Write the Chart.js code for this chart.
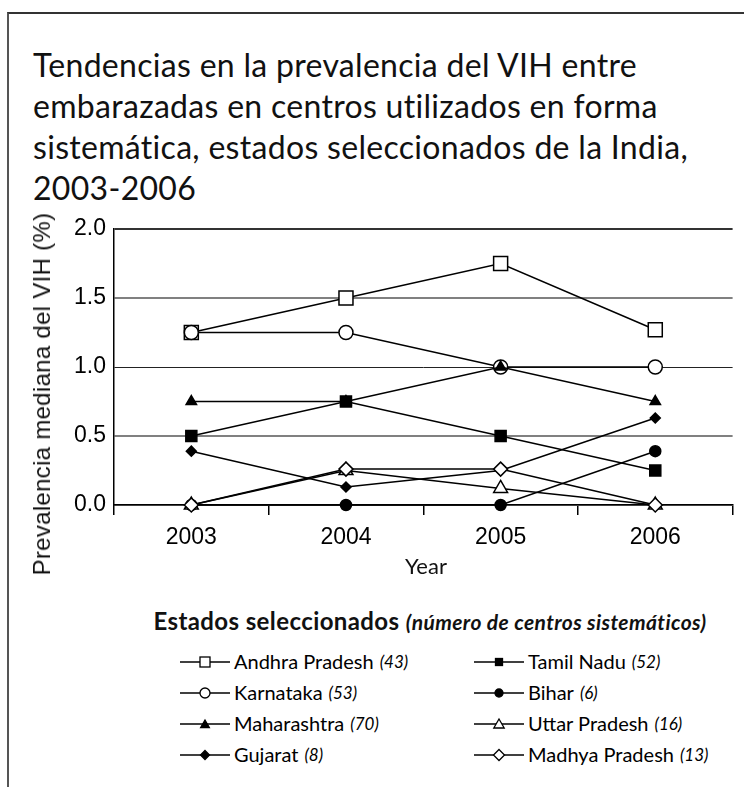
<!DOCTYPE html>
<html>
<head>
<meta charset="utf-8">
<script src="https://cdn.jsdelivr.net/npm/chart.js@4"></script>
<style>
  body { margin: 0; background: #fff; }
  #page { position: relative; width: 744px; height: 787px; overflow: hidden; background: #fff; font-family: Lato, sans-serif; color: #111; }
  #frame { position: absolute; left: 7px; top: 12px; width: 800px; height: 800px; border-left: 2px solid #555; border-top: 2px solid #333; }
  #title { position: absolute; left: 33px; top: 44px; font-size: 32px; line-height: 41px; letter-spacing: 0.3px; }
  #chartBox { position: absolute; left: 0; top: 200px; width: 744px; height: 380px; }
  #yTitle { position: absolute; left: 42px; top: 394px; transform: translate(-50%, -50%) rotate(-90deg); white-space: nowrap; font-family: "Liberation Sans", Arial, sans-serif; font-size: 24px; letter-spacing: 0.3px; }
  #xTitle { position: absolute; left: 426px; top: 565px; transform: translate(-50%, -50%); font-size: 22px; }
  #legendHead { position: absolute; left: 430px; top: 620px; transform: translate(-50%, -50%); white-space: nowrap; font-size: 24px; font-weight: bold; letter-spacing: 0.4px; }
  #legendHead i { font-size: 21px; }
  .lgItem { position: absolute; height: 31px; line-height: 31px; white-space: nowrap; font-size: 20px; display: flex; align-items: center; color: #000; }
  .lgItem svg { margin-right: 4px; }
  .lgItem i { font-size: 17px; margin-left: 6px; }
</style>
</head>
<body>
<div id="page">
  <div id="frame"></div>
  <div id="title">Tendencias en la prevalencia del VIH entre<br>embarazadas en centros utilizados en forma<br>sistemática, estados seleccionados de la India,<br>2003-2006</div>
  <div id="chartBox"><canvas id="chart"></canvas></div>
  <div id="yTitle">Prevalencia mediana del VIH (%)</div>
  <div id="xTitle">Year</div>
  <div id="legendHead">Estados seleccionados <i>(número de centros sistemáticos)</i></div>
  <div id="legend"></div>
</div>
<script>
// datos
const years = ['2003', '2004', '2005', '2006'];
const yTickLabels = ['0.0', '0.5', '1.0', '1.5', '2.0'];

const states = ['Andhra Pradesh', 'Karnataka', 'Maharashtra', 'Gujarat', 'Tamil Nadu', 'Bihar', 'Uttar Pradesh', 'Madhya Pradesh'];
const siteCounts = [43, 53, 70, 8, 52, 6, 16, 13];

const andhraPradesh = [1.25, 1.5, 1.75, 1.27];
const karnataka = [1.25, 1.25, 1.0, 1.0];
const maharashtra = [0.75, 0.75, 1.0, 0.75];
const gujarat = [0.39, 0.13, 0.25, 0.63];
const tamilNadu = [0.5, 0.75, 0.5, 0.25];
const bihar = [0.0, 0.0, 0.0, 0.39];
const uttarPradesh = [0.0, 0.25, 0.12, 0.0];
const madhyaPradesh = [0.0, 0.26, 0.26, 0.0];

const seriesValues = [andhraPradesh, karnataka, maharashtra, gujarat, tamilNadu, bihar, uttarPradesh, madhyaPradesh];

// estilo de los marcadores (forma, relleno, radio)
const markers = [
  { style: 'rect', filled: false, r: 9.9 },
  { style: 'circle', filled: false, r: 7 },
  { style: 'triangle', filled: true, r: 6 },
  { style: 'rectRot', filled: true, r: 5 },
  { style: 'rect', filled: true, r: 7.8 },
  { style: 'circle', filled: true, r: 5.5 },
  { style: 'triangle', filled: false, r: 8 },
  { style: 'rectRot', filled: false, r: 7 }
];

const datasets = states.map((name, i) => ({
  label: name,
  data: seriesValues[i],
  borderColor: '#000',
  borderWidth: 1.5,
  pointStyle: markers[i].style,
  pointRadius: markers[i].r,
  pointHoverRadius: markers[i].r,
  pointBackgroundColor: markers[i].filled ? '#000' : '#fff',
  pointBorderColor: '#000',
  pointBorderWidth: 1.5,
  order: states.length - i,
  tension: 0,
  clip: false
}));

new Chart(document.getElementById('chart'), {
  type: 'line',
  data: { labels: years, datasets: datasets },
  options: {
    responsive: true,
    maintainAspectRatio: false,
    animation: false,
    layout: { padding: { left: 0, right: 8, top: 29, bottom: 0 } },
    plugins: { legend: { display: false }, tooltip: { enabled: false } },
    scales: {
      x: {
        offset: true,
        afterFit: (scale) => { scale.height = 75; },
        grid: { offset: true, drawOnChartArea: false, drawTicks: true, tickLength: 10, color: '#000', lineWidth: 1.5 },
        border: { color: '#000', width: 1.5 },
        ticks: { color: '#000', padding: 9, font: { family: '"Liberation Sans", Arial, sans-serif', size: 23 } }
      },
      y: {
        min: 0,
        max: 2,
        afterFit: (scale) => { scale.width = 114; },
        ticks: {
          stepSize: 0.5,
          color: '#000',
          padding: 8,
          font: { family: '"Liberation Sans", Arial, sans-serif', size: 23 },
          callback: (v, i) => yTickLabels[i]
        },
        grid: {
          drawTicks: false,
          color: (ctx) => ctx.tick.value === 2 ? '#333' : (ctx.tick.value === 1 ? '#222' : '#808080'),
          lineWidth: (ctx) => ctx.tick.value === 1 ? 1 : 2
        },
        border: { color: '#000', width: 1.5 }
      }
    }
  }
});

// leyenda en HTML
const legendEl = document.getElementById('legend');
const colX = [180, 474];
const rowTop = 646;
const rowH = 31;

function markerSvg(m) {
  const fill = m.filled ? '#000' : '#fff';
  const cx = 25, cy = 10;
  let shape = '';
  if (m.style === 'rect') {
    const s = m.filled ? 3.5 : 5;
    shape = `<rect x="${cx - s}" y="${cy - s}" width="${2 * s}" height="${2 * s}" fill="${fill}" stroke="#000" stroke-width="1.3"/>`;
  } else if (m.style === 'circle') {
    const r = m.filled ? 4 : 5;
    shape = `<circle cx="${cx}" cy="${cy}" r="${r}" fill="${fill}" stroke="#000" stroke-width="1.3"/>`;
  } else if (m.style === 'triangle') {
    const r = m.filled ? 5 : 6;
    const h = r * 0.866;
    shape = `<polygon points="${cx},${cy - r + 1} ${cx + h},${cy + r / 2 + 1} ${cx - h},${cy + r / 2 + 1}" fill="${fill}" stroke="#000" stroke-width="1.3"/>`;
  } else {
    const r = m.filled ? 4.5 : 5.5;
    shape = `<polygon points="${cx},${cy - r} ${cx + r},${cy} ${cx},${cy + r} ${cx - r},${cy}" fill="${fill}" stroke="#000" stroke-width="1.3"/>`;
  }
  return `<svg width="50" height="20" viewBox="0 0 50 20"><line x1="0" y1="${cy}" x2="50" y2="${cy}" stroke="#000" stroke-width="1.6"/>${shape}</svg>`;
}

states.forEach((name, i) => {
  const col = i < 4 ? 0 : 1;
  const row = i % 4;
  const item = document.createElement('div');
  item.className = 'lgItem';
  item.style.left = colX[col] + 'px';
  item.style.top = (rowTop + row * rowH) + 'px';
  item.innerHTML = markerSvg(markers[i]) + `<span>${name}</span><i>(${siteCounts[i]})</i>`;
  legendEl.appendChild(item);
});
</script>
</body>
</html>
